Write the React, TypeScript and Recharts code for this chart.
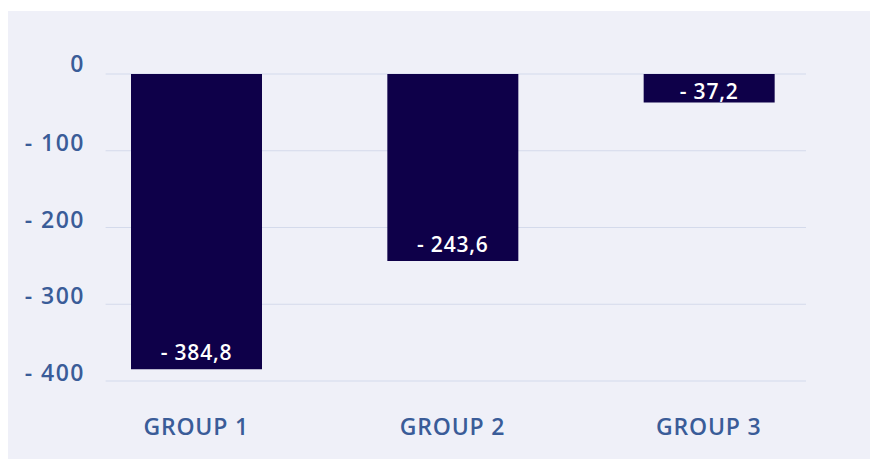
import { BarChart, Bar, XAxis, YAxis, CartesianGrid, LabelList } from 'recharts';

const categories = ['GROUP 1', 'GROUP 2', 'GROUP 3'];
const values = [-384.8, -243.6, -37.2];
const yTicks = [-400, -300, -200, -100, 0];

const data = categories.map((name, i) => ({ name, value: values[i] }));

const FONT = '"Open Sans", "Noto Sans", sans-serif';
const BLUE = '#3a5c98';

const fmtTick = (v: number) => (v === 0 ? '0' : `- ${Math.abs(v)}`);
const fmtLabel = (v: number) => `- ${Math.abs(v).toFixed(1).replace('.', ',')}`;

const YTick = (p: any) => (
  <text
    x={p.x + 17}
    y={p.y + (p.payload.value === 0 ? -2 : 0)}
    textAnchor="end"
    fill={BLUE}
    fontSize={23}
    fontWeight={600}
    fontFamily={FONT}
    letterSpacing={1.5}
  >
    {fmtTick(p.payload.value)}
  </text>
);

const XTick = (p: any) => (
  <text
    x={p.x}
    y={p.y + 54}
    textAnchor="middle"
    fill={BLUE}
    fontSize={23}
    fontWeight={600}
    fontFamily={FONT}
    letterSpacing={0.8}
  >
    {p.payload.value}
  </text>
);

const BarLabel = (p: any) => {
  const top = Math.min(p.y, p.y + p.height);
  const bottom = Math.max(p.y, p.y + p.height);
  const h = bottom - top;
  const cy = bottom - Math.min(16.5, h * 0.38);
  return (
    <text
      x={p.x + p.width / 2}
      y={cy + 7.5}
      textAnchor="middle"
      fill="#ffffff"
      fontSize={21}
      fontWeight={600}
      fontFamily={FONT}
      letterSpacing={0.8}
    >
      {fmtLabel(p.value)}
    </text>
  );
};

export default function App() {
  return (
    <div
      style={{
        position: 'absolute',
        left: 8,
        top: 11,
        width: 862,
        height: 448,
        background: '#eff0f8',
      }}
    >
      <BarChart width={862} height={448} data={data} margin={{ top: 63, right: 33, bottom: 0, left: 0 }}>
        <CartesianGrid
          vertical={false}
          horizontal={(g: any) => (
            <line
              key={g.key}
              x1={g.x1 + 37.6}
              x2={g.x2 - 31}
              y1={g.y1}
              y2={g.y2}
              stroke="#d4daeb"
              strokeWidth={1.2}
            />
          )}
        />
        <XAxis
          dataKey="name"
          height={78}
          axisLine={false}
          tickLine={false}
          tickSize={0}
          tickMargin={0}
          tick={<XTick />}
        />
        <YAxis
          width={60}
          domain={[-400, 0]}
          ticks={yTicks}
          axisLine={false}
          tickLine={false}
          tickSize={0}
          tickMargin={0}
          tick={<YTick />}
        />
        <Bar dataKey="value" fill="#0e0049" barSize={131} isAnimationActive={false}>
          <LabelList dataKey="value" content={<BarLabel />} />
        </Bar>
      </BarChart>
    </div>
  );
}
